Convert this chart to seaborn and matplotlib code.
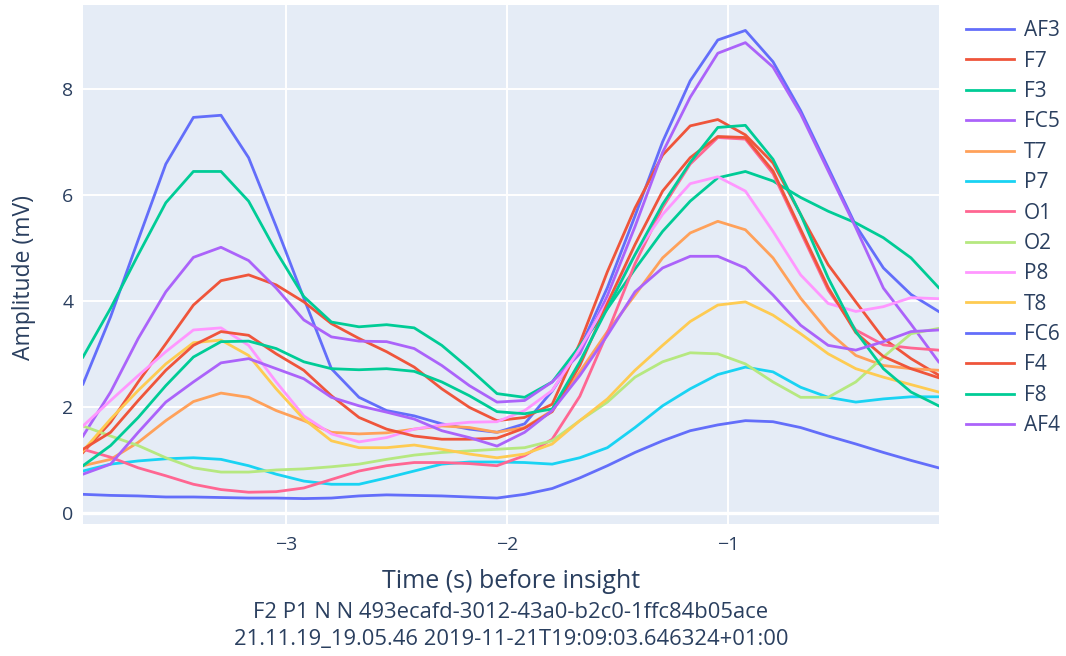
import matplotlib
matplotlib.use("Agg")
import matplotlib.pyplot as plt
import numpy as np
import pandas as pd
import seaborn as sns

# EEG channel order and per-channel colours
channels = ["AF3", "F7", "F3", "FC5", "T7", "P7", "O1", "O2", "P8", "T8",
            "FC6", "F4", "F8", "AF4"]
colors = ["#636EFA", "#EF553B", "#00CC96", "#AB63FA", "#FFA15A", "#19D3F3",
          "#FF6692", "#B6E880", "#FF97FF", "#FECB52", "#636EFA", "#EF553B",
          "#00CC96", "#AB63FA"]

# sample times (s) relative to the insight moment
time_s = [-3.92, -3.795, -3.67, -3.545, -3.42, -3.295, -3.17, -3.045,
          -2.92, -2.795, -2.67, -2.545, -2.42, -2.295, -2.17, -2.045,
          -1.92, -1.795, -1.67, -1.545, -1.42, -1.295, -1.17, -1.045,
          -0.92, -0.795, -0.67, -0.545, -0.42, -0.295, -0.17, -0.045]

# amplitude per channel (mV)
af3 = [2.43, 3.70, 5.15, 6.58, 7.46, 7.50, 6.70, 5.40, 4.05, 2.72, 2.18, 1.93,
       1.83, 1.68, 1.58, 1.52, 1.68, 2.30, 3.10, 4.25, 5.60, 7.00, 8.15, 8.92,
       9.10, 8.51, 7.59, 6.51, 5.42, 4.62, 4.12, 3.80]
f7 = [1.14, 1.71, 2.47, 3.19, 3.92, 4.38, 4.49, 4.30, 3.98, 3.57, 3.29, 3.04,
      2.75, 2.34, 1.99, 1.74, 1.80, 2.05, 3.20, 4.55, 5.75, 6.75, 7.30, 7.42,
      7.13, 6.60, 5.63, 4.68, 3.98, 3.29, 2.91, 2.60]
f3 = [2.94, 3.86, 4.87, 5.85, 6.44, 6.44, 5.88, 4.93, 4.08, 3.60, 3.51, 3.55,
      3.49, 3.16, 2.72, 2.25, 2.18, 2.47, 3.15, 3.85, 4.60, 5.31, 5.88, 6.32,
      6.44, 6.26, 5.95, 5.69, 5.47, 5.19, 4.81, 4.25]
fc5 = [1.45, 2.28, 3.29, 4.17, 4.82, 5.01, 4.76, 4.24, 3.64, 3.32, 3.24, 3.23,
       3.10, 2.78, 2.40, 2.09, 2.12, 2.47, 3.00, 4.10, 5.40, 6.80, 7.84, 8.67,
       8.87, 8.41, 7.53, 6.45, 5.38, 4.24, 3.56, 2.85]
t7 = [0.89, 1.01, 1.33, 1.74, 2.10, 2.26, 2.18, 1.93, 1.74, 1.52, 1.49, 1.51,
      1.58, 1.64, 1.61, 1.52, 1.61, 1.93, 2.66, 3.42, 4.11, 4.81, 5.28, 5.50,
      5.34, 4.81, 4.05, 3.42, 2.97, 2.78, 2.72, 2.69]
p7 = [0.79, 0.92, 0.98, 1.02, 1.04, 1.01, 0.89, 0.73, 0.60, 0.54, 0.54, 0.66,
      0.79, 0.92, 0.96, 0.96, 0.95, 0.92, 1.04, 1.23, 1.61, 2.02, 2.34, 2.61,
      2.75, 2.66, 2.37, 2.18, 2.09, 2.15, 2.19, 2.19]
o1 = [1.20, 1.05, 0.85, 0.70, 0.54, 0.44, 0.39, 0.40, 0.47, 0.63, 0.79, 0.89,
      0.95, 0.95, 0.93, 0.89, 1.08, 1.39, 2.20, 3.40, 4.70, 5.76, 6.58, 7.08,
      7.05, 6.40, 5.30, 4.20, 3.45, 3.17, 3.11, 3.07]
o2 = [1.64, 1.45, 1.27, 1.04, 0.85, 0.77, 0.77, 0.81, 0.83, 0.87, 0.92, 1.01,
      1.09, 1.14, 1.17, 1.20, 1.23, 1.36, 1.74, 2.09, 2.56, 2.85, 3.02, 3.00,
      2.81, 2.47, 2.18, 2.18, 2.47, 2.94, 3.38, 3.48]
p8 = [1.64, 2.12, 2.59, 3.04, 3.45, 3.49, 3.16, 2.47, 1.83, 1.49, 1.34, 1.42,
      1.58, 1.66, 1.71, 1.72, 1.93, 2.31, 3.10, 3.98, 4.87, 5.63, 6.21, 6.34,
      6.07, 5.31, 4.49, 3.95, 3.80, 3.89, 4.06, 4.04]
t8 = [1.17, 1.77, 2.31, 2.81, 3.21, 3.26, 2.97, 2.34, 1.77, 1.36, 1.23, 1.23,
      1.28, 1.20, 1.11, 1.04, 1.11, 1.30, 1.74, 2.15, 2.69, 3.16, 3.61, 3.92,
      3.98, 3.73, 3.38, 3.00, 2.72, 2.56, 2.42, 2.28]
fc6 = [0.35, 0.33, 0.32, 0.30, 0.30, 0.29, 0.28, 0.28, 0.27, 0.28, 0.32, 0.34,
       0.33, 0.32, 0.30, 0.28, 0.35, 0.46, 0.66, 0.89, 1.14, 1.36, 1.55, 1.66,
       1.74, 1.72, 1.61, 1.45, 1.30, 1.14, 0.99, 0.85]
f4 = [1.20, 1.52, 2.12, 2.69, 3.16, 3.42, 3.35, 3.00, 2.69, 2.21, 1.80, 1.58,
      1.45, 1.39, 1.39, 1.41, 1.60, 1.91, 2.78, 3.95, 5.06, 6.07, 6.70, 7.10,
      7.08, 6.45, 5.35, 4.25, 3.40, 2.95, 2.72, 2.55]
f8 = [0.89, 1.27, 1.80, 2.40, 2.94, 3.23, 3.24, 3.10, 2.85, 2.72, 2.70, 2.72,
      2.67, 2.47, 2.21, 1.91, 1.87, 1.96, 2.85, 3.86, 4.87, 5.82, 6.61, 7.27,
      7.31, 6.67, 5.63, 4.43, 3.42, 2.72, 2.28, 2.02]
af4 = [0.73, 0.92, 1.52, 2.09, 2.47, 2.83, 2.91, 2.72, 2.53, 2.18, 2.02, 1.90,
       1.77, 1.55, 1.42, 1.26, 1.52, 1.93, 2.59, 3.35, 4.17, 4.62, 4.84, 4.84,
       4.62, 4.11, 3.54, 3.16, 3.07, 3.23, 3.42, 3.45]

series = [af3, f7, f3, fc5, t7, p7, o1, o2, p8, t8, fc6, f4, f8, af4]

x_ticks = [-3, -2, -1]
y_ticks = [0, 2, 4, 6, 8]
x_title = "Time (s) before insight"
y_title = "Amplitude (mV)"
subtitle_1 = "F2 P1 N N 493ecafd-3012-43a0-b2c0-1ffc84b05ace"
subtitle_2 = "21.11.19_19.05.46 2019-11-21T19:09:03.646324+01:00"

df = pd.DataFrame({
    "time": np.tile(time_s, len(channels)),
    "amplitude": np.concatenate(series),
    "channel": np.repeat(channels, len(time_s)),
})

TEXT = "#2a3f5f"
W, H = 1066, 656
sns.set_style({"axes.facecolor": "#E5ECF6", "grid.color": "white",
               "axes.edgecolor": "none"})
plt.rcParams["font.family"] = ["Open Sans", "DejaVu Sans"]

fig = plt.figure(figsize=(W / 100, H / 100), dpi=100)
fig.patch.set_facecolor("white")
ax = fig.add_axes([83 / W, 1 - 523.5 / H, (938.6 - 83) / W, (523.5 - 5) / H])

sns.lineplot(data=df, x="time", y="amplitude", hue="channel",
             hue_order=channels, palette=dict(zip(channels, colors)),
             estimator=None, sort=False, linewidth=2.0, ax=ax, legend=True)

ax.set_xlim(-3.92, -0.045)
ax.set_ylim(-0.2, 9.58)
ax.set_xticks(x_ticks)
ax.set_yticks(y_ticks)
ax.set_xticklabels(["\u2212" + str(abs(t)) for t in x_ticks])
ax.grid(True, color="white", linewidth=1.4)
ax.axhline(0, color="white", linewidth=2.4, zorder=0.9)
ax.set_axisbelow(True)
for s in ax.spines.values():
    s.set_visible(False)
ax.tick_params(axis="both", length=0, labelsize=14, labelcolor=TEXT)
ax.tick_params(axis="x", pad=9)
ax.tick_params(axis="y", pad=7)
ax.set_xlabel("")
ax.set_ylabel("")

handles, labels = ax.get_legend_handles_labels()
ax.legend(handles, labels, loc="upper left",
          bbox_to_anchor=(958 / W, 1 - 12 / H), bbox_transform=fig.transFigure,
          frameon=False, fontsize=15, labelcolor=TEXT, handlelength=2.3,
          handletextpad=0.45, labelspacing=0.45, borderaxespad=0)

fig.text(510.8 / W, 1 - 581 / H, x_title, ha="center", va="center",
         fontsize=18, color=TEXT)
fig.text(24 / W, 1 - 277 / H, y_title, ha="center", va="center",
         rotation=90, fontsize=16.5, color=TEXT)
fig.text(510.8 / W, 1 - 613 / H, subtitle_1, ha="center", va="center",
         fontsize=15.8, color=TEXT)
fig.text(510.8 / W, 1 - 639 / H, subtitle_2, ha="center", va="center",
         fontsize=15.8, color=TEXT)

fig.savefig("out.png", dpi=100, facecolor="white")
